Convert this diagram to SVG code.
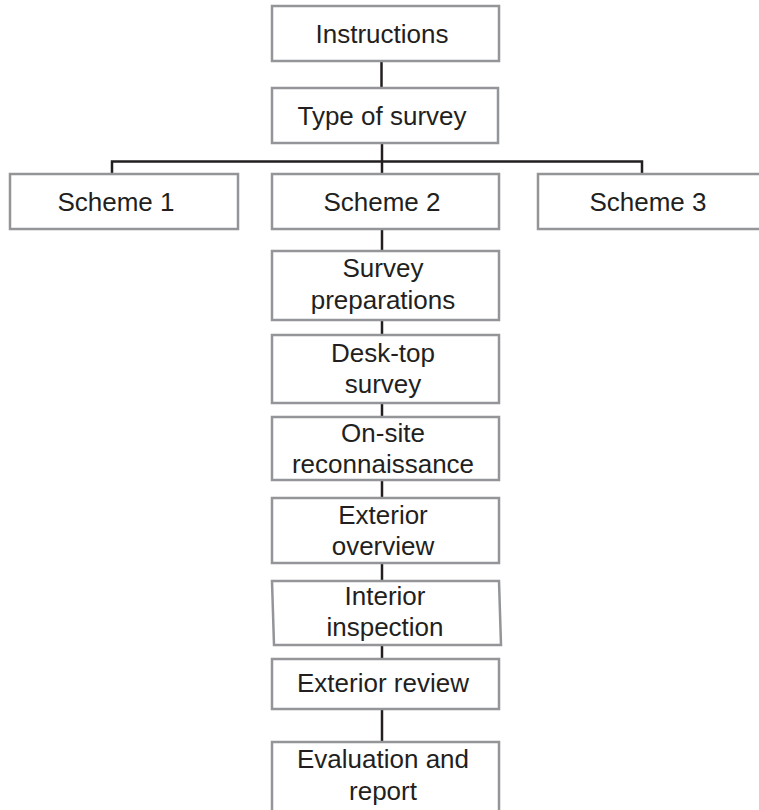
<svg xmlns="http://www.w3.org/2000/svg" width="759" height="810" viewBox="0 0 759 810">
<style>
.box{fill:#fff;stroke:#939598;stroke-width:2.5}
.lbl{font-family:"Liberation Sans",Arial,sans-serif;font-size:26px;fill:#231f20;text-anchor:middle}
.con{stroke:#231f20;stroke-width:2.5;fill:none}
</style>
<rect width="759" height="810" fill="#fff"/>
<g id="connectors">
<line class="con" x1="381.5" y1="61" x2="381.5" y2="88"/>
<line class="con" x1="382" y1="143" x2="382" y2="174"/>
<polyline class="con" points="112,174 112,161.5 642,161.5 642,174"/>
<line class="con" x1="382" y1="229" x2="382" y2="251"/>
<line class="con" x1="382" y1="320" x2="382" y2="335"/>
<line class="con" x1="382" y1="403" x2="382" y2="417"/>
<line class="con" x1="382" y1="480" x2="382" y2="498"/>
<line class="con" x1="382" y1="563" x2="382" y2="581"/>
<line class="con" x1="382" y1="645" x2="382" y2="659"/>
<line class="con" x1="382" y1="709" x2="382" y2="742"/>
</g>
<g id="instructions">
<rect class="box" x="272" y="6" width="227" height="55"/>
<text class="lbl" x="382" y="43">Instructions</text>
</g>
<g id="type-of-survey">
<rect class="box" x="272" y="88" width="226" height="55"/>
<text class="lbl" x="382" y="124.5">Type of survey</text>
</g>
<g id="scheme1">
<rect class="box" x="10" y="174" width="228" height="55"/>
<text class="lbl" x="116" y="211">Scheme 1</text>
</g>
<g id="scheme2">
<rect class="box" x="272" y="174" width="227" height="55"/>
<text class="lbl" x="382" y="211">Scheme 2</text>
</g>
<g id="scheme3">
<rect class="box" x="538" y="174" width="226" height="55"/>
<text class="lbl" x="648" y="211">Scheme 3</text>
</g>
<g id="survey-preparations">
<rect class="box" x="272" y="251" width="227" height="69"/>
<text class="lbl" x="383" y="277">Survey</text>
<text class="lbl" x="383" y="308.5">preparations</text>
</g>
<g id="desk-top-survey">
<rect class="box" x="272" y="335" width="227" height="68"/>
<text class="lbl" x="383" y="362">Desk-top</text>
<text class="lbl" x="383" y="393">survey</text>
</g>
<g id="on-site-reconnaissance">
<rect class="box" x="272" y="417" width="227" height="63"/>
<text class="lbl" x="383" y="442">On-site</text>
<text class="lbl" x="383" y="473">reconnaissance</text>
</g>
<g id="exterior-overview">
<rect class="box" x="272" y="498" width="227" height="65"/>
<text class="lbl" x="383" y="523.5">Exterior</text>
<text class="lbl" x="383" y="555">overview</text>
</g>
<g id="interior-inspection">
<polygon class="box" points="272,581 499,581 501,645 274,645"/>
<text class="lbl" x="385" y="605">Interior</text>
<text class="lbl" x="385" y="635.5">inspection</text>
</g>
<g id="exterior-review">
<rect class="box" x="272" y="659" width="227" height="50"/>
<text class="lbl" x="383" y="692">Exterior review</text>
</g>
<g id="evaluation-and-report">
<rect class="box" x="272" y="742" width="227" height="75"/>
<text class="lbl" x="383" y="768">Evaluation and</text>
<text class="lbl" x="383" y="800">report</text>
</g>
</svg>
